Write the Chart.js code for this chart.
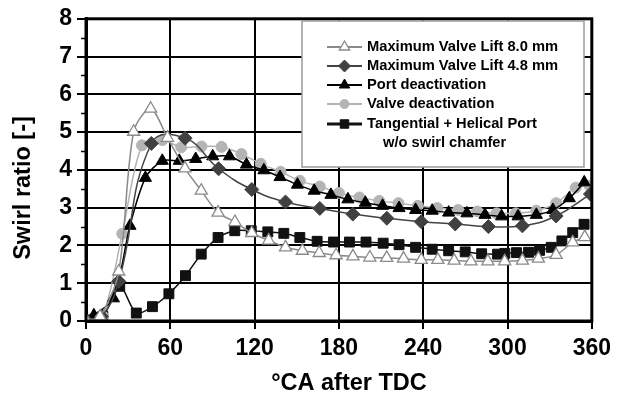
<!DOCTYPE html>
<html>
<head>
<meta charset="utf-8">
<script src="https://cdn.jsdelivr.net/npm/chart.js@4"></script>
<style>
  html, body { margin: 0; padding: 0; background: #fff; }
  #wrap { width: 617px; height: 398px; }
</style>
</head>
<body>
<div id="wrap"><canvas id="swirlChart" width="617" height="398"></canvas></div>
<script>
// crank angle [deg after TDC] and swirl ratio for each intake configuration
const lift80Angle = [0, 10, 23.3, 33.9, 46, 58, 70.4, 82, 94, 106, 118, 130, 142, 154, 166, 178, 190, 202, 214, 226, 238.6, 250.4, 262, 274, 286, 298, 310.6, 322, 334.6, 346.4, 355];
const lift80Swirl = [0.02, 0.12, 1.31, 5.01, 5.62, 4.85, 4.04, 3.45, 2.87, 2.62, 2.33, 2.13, 1.95, 1.86, 1.8, 1.74, 1.71, 1.68, 1.67, 1.65, 1.62, 1.62, 1.6, 1.58, 1.58, 1.58, 1.6, 1.65, 1.75, 2.08, 2.22];

const lift48Angle = [0, 11, 23.3, 46.5, 70.5, 94.4, 118, 142, 166.4, 189.9, 214.1, 238.6, 262.8, 286.4, 310.6, 334.6, 359];
const lift48Swirl = [0.02, 0.12, 1.05, 4.7, 4.84, 4.03, 3.48, 3.15, 2.98, 2.83, 2.72, 2.63, 2.57, 2.5, 2.52, 2.78, 3.36];

const portAngle = [0, 5.6, 19.5, 31.3, 42.3, 54.3, 66.4, 78.1, 90.2, 102.1, 114.2, 126.6, 138.1, 150.5, 162.4, 174.3, 186.4, 198.8, 211.1, 222.8, 234.6, 246.4, 258.1, 271.1, 284, 295.8, 307.5, 320.5, 332.3, 344, 354.6];
const portSwirl = [0.02, 0.15, 0.6, 2.52, 3.79, 4.24, 4.24, 4.29, 4.36, 4.36, 4.14, 3.99, 3.81, 3.61, 3.45, 3.34, 3.22, 3.13, 3.05, 2.99, 2.94, 2.92, 2.87, 2.85, 2.81, 2.77, 2.77, 2.81, 2.94, 3.25, 3.67];

const valveAngle = [0, 11.8, 25.8, 39.8, 54.3, 67.8, 82.2, 96.5, 110.6, 124.4, 138.5, 152.2, 166.4, 180, 194.6, 208.7, 222.4, 236.2, 250, 264.9, 278.6, 292.2, 305.9, 320.5, 334.6, 348.5, 358.5];
const valveSwirl = [0.02, 0.13, 2.31, 4.65, 4.79, 4.6, 4.62, 4.61, 4.42, 4.16, 3.95, 3.71, 3.56, 3.39, 3.27, 3.18, 3.12, 3.05, 2.99, 2.94, 2.9, 2.85, 2.85, 2.92, 3.12, 3.53, 3.58];

const tangAngle = [0, 12, 24, 35.8, 47.3, 59, 70.8, 82, 94, 105.9, 117.6, 129.4, 140.8, 152.2, 164.5, 176.2, 187.5, 199.3, 211.5, 222.8, 234.6, 246.4, 258.1, 269.9, 281.6, 292.9, 298.1, 306.4, 315, 322.8, 331.1, 338.7, 346.4, 354.5];
const tangSwirl = [0.03, 0.12, 0.92, 0.21, 0.38, 0.72, 1.2, 1.77, 2.21, 2.39, 2.39, 2.36, 2.32, 2.21, 2.11, 2.09, 2.09, 2.09, 2.06, 2.02, 1.95, 1.9, 1.86, 1.83, 1.78, 1.77, 1.79, 1.81, 1.82, 1.87, 1.95, 2.12, 2.34, 2.56];

const seriesNames = [
    'Maximum Valve Lift 8.0 mm',
    'Maximum Valve Lift 4.8 mm',
    'Port deactivation',
    'Valve deactivation',
    ['Tangential + Helical Port', 'w/o swirl chamfer']
];

const xTicks = [0, 60, 120, 180, 240, 300, 360];
const yTicks = [0, 1, 2, 3, 4, 5, 6, 7, 8];
const xTitle = '°CA after TDC';
const yTitle = 'Swirl ratio [-]';

const FONT = "'Liberation Sans', Arial, sans-serif";

function toPoints(xs, ys) {
    return xs.map((x, i) => ({ x: x, y: ys[i] }));
}

const datasets = [
    {
        label: 'lift80',
        data: toPoints(lift80Angle, lift80Swirl),
        borderColor: '#8a8a8a', borderWidth: 1.5,
        pointStyle: 'triangle', pointRadius: 7,
        pointBackgroundColor: '#ffffff', pointBorderColor: '#8a8a8a', pointBorderWidth: 1.3
    },
    {
        label: 'lift48',
        data: toPoints(lift48Angle, lift48Swirl),
        borderColor: '#444444', borderWidth: 1.5, tension: 0.45,
        pointStyle: 'rectRot', pointRadius: 7,
        pointBackgroundColor: '#404040', pointBorderColor: '#404040', pointBorderWidth: 1
    },
    {
        label: 'port',
        data: toPoints(portAngle, portSwirl),
        borderColor: '#000000', borderWidth: 1.5,
        pointStyle: 'triangle', pointRadius: 7,
        pointBackgroundColor: '#000000', pointBorderColor: '#000000', pointBorderWidth: 1
    },
    {
        label: 'valve',
        data: toPoints(valveAngle, valveSwirl),
        borderColor: '#b4b4b4', borderWidth: 1.5,
        pointStyle: 'circle', pointRadius: 5.5,
        pointBackgroundColor: '#b4b4b4', pointBorderColor: '#b4b4b4', pointBorderWidth: 1
    },
    {
        label: 'tang',
        data: toPoints(tangAngle, tangSwirl),
        borderColor: '#111111', borderWidth: 1.5,
        pointStyle: 'rect', pointRadius: 7,
        pointBackgroundColor: '#111111', pointBorderColor: '#111111', pointBorderWidth: 1
    }
];

// frame, minor ticks, axis titles and the boxed legend inside the plot
const framePlugin = {
    id: 'frame',
    afterDraw(chart) {
        const ctx = chart.ctx;
        const area = chart.chartArea;
        const yScale = chart.scales.y;

        ctx.save();
        ctx.strokeStyle = '#000';
        ctx.lineWidth = 1.5;
        for (let v = 0.5; v < 8; v += 1) {
            const py = Math.round(yScale.getPixelForValue(v)) + 0.5;
            ctx.beginPath();
            ctx.moveTo(area.left - 5, py);
            ctx.lineTo(area.left, py);
            ctx.stroke();
        }
        ctx.lineWidth = 3;
        ctx.strokeRect(area.left, area.top, area.right - area.left, area.bottom - area.top);

        // axis titles
        ctx.fillStyle = '#000';
        ctx.font = 'bold 23.5px ' + FONT;
        ctx.textAlign = 'center';
        ctx.textBaseline = 'middle';
        ctx.fillText(xTitle, 349, 384);
        ctx.save();
        ctx.translate(24, 188);
        ctx.rotate(-Math.PI / 2);
        ctx.fillText(yTitle, 0, 0);
        ctx.restore();

        // legend box
        const lx = 302, ly = 21, lw = 282, lh = 146;
        ctx.fillStyle = '#fff';
        ctx.fillRect(lx, ly, lw, lh);
        ctx.lineWidth = 1.5;
        ctx.strokeStyle = '#9a9a9a';
        ctx.strokeRect(lx, ly, lw, lh);

        const rows = [47, 66, 85, 104, 124];
        ctx.font = 'bold 14.7px ' + FONT;
        ctx.textBaseline = 'middle';
        ctx.textAlign = 'left';
        chart.data.datasets.forEach((ds, i) => {
            const y = rows[i];
            ctx.strokeStyle = ds.borderColor;
            ctx.lineWidth = i === 4 ? 3 : 2;
            ctx.beginPath();
            ctx.moveTo(327, y);
            ctx.lineTo(362, y);
            ctx.stroke();
            ctx.fillStyle = ds.pointBackgroundColor;
            ctx.strokeStyle = ds.pointBorderColor;
            ctx.lineWidth = ds.pointBorderWidth;
            Chart.helpers.drawPoint(ctx, {
                pointStyle: ds.pointStyle,
                radius: ds.pointRadius - 1,
                borderWidth: ds.pointBorderWidth
            }, 344.5, y);
            ctx.fillStyle = '#000';
            const name = seriesNames[i];
            if (Array.isArray(name)) {
                ctx.fillText(name[0], 367, y);
                ctx.fillText(name[1], 383, y + 19);
            } else {
                ctx.fillText(name, 367, y);
            }
        });
        ctx.restore();
    }
};

const ctx1 = document.getElementById('swirlChart').getContext('2d');

const config = {
    type: 'line',
    data: { datasets: datasets },
    options: {
        responsive: false,
        animation: false,
        devicePixelRatio: 1,
        layout: { padding: { top: 17, right: 21, left: 0, bottom: 0 } },
        elements: { line: { tension: 0.3, fill: false } },
        plugins: {
            legend: { display: false },
            tooltip: { enabled: false }
        },
        scales: {
            x: {
                type: 'linear',
                min: 0,
                max: 360,
                afterFit(scale) { scale.height = 77; },
                afterBuildTicks(scale) { scale.ticks = xTicks.map(v => ({ value: v })); },
                ticks: {
                    color: '#000',
                    padding: 6,
                    font: { family: FONT, size: 23, weight: 'bold' }
                },
                grid: { color: '#000', lineWidth: 2, tickLength: 8 },
                border: { display: true, color: '#000', width: 3 }
            },
            y: {
                min: 0,
                max: 8,
                afterFit(scale) { scale.width = 86; },
                afterBuildTicks(scale) { scale.ticks = yTicks.map(v => ({ value: v })); },
                ticks: {
                    color: '#000',
                    padding: 5,
                    font: { family: FONT, size: 23, weight: 'bold' }
                },
                grid: { color: '#000', lineWidth: 2, tickLength: 9 },
                border: { display: true, color: '#000', width: 3 }
            }
        }
    },
    plugins: [framePlugin]
};

const swirlChart = new Chart(ctx1, config);
</script>
</body>
</html>
